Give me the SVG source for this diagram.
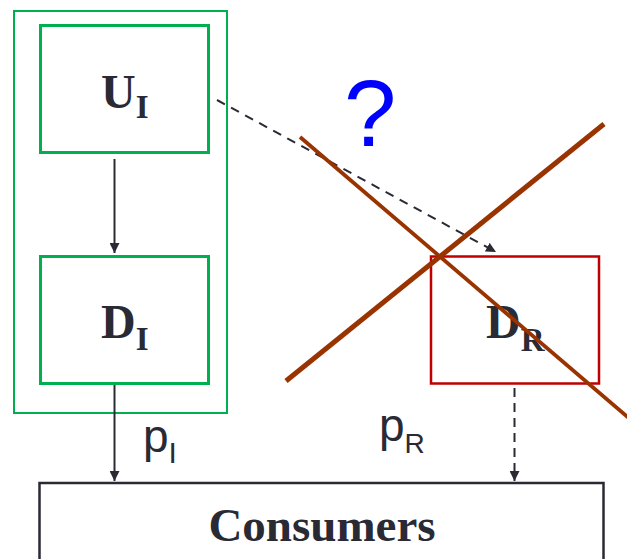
<svg xmlns="http://www.w3.org/2000/svg" width="627" height="559" viewBox="0 0 627 559">
<defs>
<marker id="ah" viewBox="0 0 10 10" refX="10" refY="5" markerWidth="10" markerHeight="10" markerUnits="userSpaceOnUse" orient="auto">
<path d="M0,0 L10,5 L0,10 Z" fill="#2a2a35"/>
</marker>
<style>
.g{fill:none;stroke:#00b050;stroke-width:3}
.lbl{font-family:"Liberation Serif",serif;font-weight:bold;fill:#2a2a35}
.sans{font-family:"Liberation Sans",Arial,sans-serif;fill:#2a2a35}
.con{fill:none;stroke:#2a2a35;stroke-width:2}
.x{stroke:#993300;fill:none}
</style>
</defs>
<rect x="0" y="0" width="627" height="559" fill="#ffffff"/>
<g id="group-I">
<rect x="14" y="11" width="213" height="402" fill="none" stroke="#00b050" stroke-width="2"/>
</g>
<g id="node-UI">
<rect class="g" x="40.5" y="25.5" width="168" height="127"/>
<text class="lbl" x="101" y="108" font-size="48">U<tspan font-size="33" dy="10">I</tspan></text>
</g>
<g id="node-DI">
<rect class="g" x="40.5" y="256.5" width="168" height="127"/>
<text class="lbl" x="101" y="338" font-size="48">D<tspan font-size="33" dy="12">I</tspan></text>
</g>
<g id="node-DR">
<rect x="431" y="256.5" width="168" height="127" fill="none" stroke="#c00000" stroke-width="2.5"/>
<text class="lbl" x="486" y="338" font-size="48">D<tspan font-size="33" dy="13">R</tspan></text>
</g>
<g id="node-consumers">
<rect x="39.5" y="483" width="564" height="90" fill="#ffffff" stroke="#2a2a35" stroke-width="2.5"/>
<text class="lbl" x="322" y="541" font-size="47" text-anchor="middle">Consumers</text>
</g>
<g id="connectors">
<line class="con" x1="114.5" y1="159" x2="114.5" y2="253" marker-end="url(#ah)"/>
<line class="con" x1="114.5" y1="385" x2="114.5" y2="481" marker-end="url(#ah)"/>
<line class="con" x1="514.5" y1="388" x2="514.5" y2="481" stroke-dasharray="9,6" marker-end="url(#ah)"/>
<line class="con" x1="217" y1="100" x2="496" y2="252" stroke-width="2.3" stroke-dasharray="9,7" marker-end="url(#ah)"/>
</g>
<g id="labels">
<text class="sans" x="143" y="452" font-size="46">p<tspan font-size="30" dy="11">I</tspan></text>
<text class="sans" x="379" y="441" font-size="46">p<tspan font-size="28" dy="12">R</tspan></text>
<text x="344" y="146" font-size="94" font-family="Liberation Sans,Arial,sans-serif" fill="#0000ff">?</text>
</g>
<g id="cross">
<line class="x" x1="286" y1="381" x2="604" y2="124" stroke-width="5"/>
<line class="x" x1="300" y1="137" x2="630" y2="419" stroke-width="3.8"/>
</g>
</svg>
